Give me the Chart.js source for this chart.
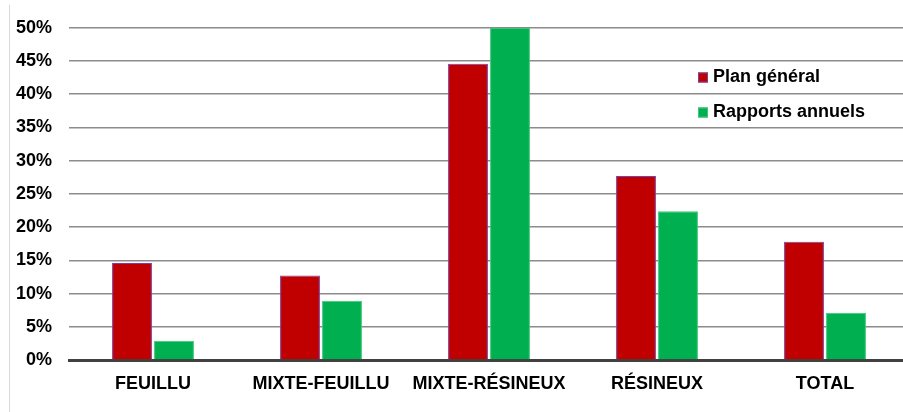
<!DOCTYPE html>
<html>
<head>
<meta charset="utf-8">
<script src="https://cdn.jsdelivr.net/npm/chart.js@4"></script>
<style>
  html, body { margin: 0; padding: 0; background: #fff; overflow: hidden; }
  #wrap { width: 903px; height: 412px; overflow: hidden; }
</style>
</head>
<body>
<div id="wrap"><canvas id="barChart" width="912" height="412"></canvas></div>
<script>
const categories = ['FEUILLU', 'MIXTE-FEUILLU', 'MIXTE-RÉSINEUX', 'RÉSINEUX', 'TOTAL'];
const planGeneral = [14.6, 12.7, 44.6, 27.7, 17.8];
const rapportsAnnuels = [2.9, 8.9, 50, 22.4, 7.1];
const yTicks = [0, 5, 10, 15, 20, 25, 30, 35, 40, 45, 50];

const FONT = { family: '"Liberation Sans", Arial, sans-serif', size: 18, weight: 'bold' };

// vertical legend inside the plot + thin frame line on the left
const sideLegend = {
  id: 'sideLegend',
  beforeDraw(chart) {
    const ctx = chart.ctx;
    ctx.save();
    ctx.strokeStyle = '#d9d9d9';
    ctx.lineWidth = 1;
    ctx.beginPath();
    ctx.moveTo(9.5, 5);
    ctx.lineTo(9.5, chart.height);
    ctx.stroke();
    ctx.restore();
  },
  afterDraw(chart, args, opts) {
    const ctx = chart.ctx;
    ctx.save();
    ctx.font = `${FONT.weight} ${FONT.size}px ${FONT.family}`;
    ctx.textBaseline = 'middle';
    chart.data.datasets.forEach((ds, i) => {
      const y = opts.y + i * opts.gap;
      ctx.fillStyle = ds.backgroundColor;
      ctx.fillRect(opts.x, y - 5, 10, 10);
      if (ds.borderWidth) {
        ctx.strokeStyle = ds.borderColor;
        ctx.lineWidth = 1;
        ctx.strokeRect(opts.x + 0.5, y - 4.5, 9, 9);
      }
      ctx.fillStyle = '#000';
      ctx.fillText(ds.label, opts.x + 15, y);
    });
    ctx.restore();
  }
};

const ctx = document.querySelector('#barChart').getContext('2d');
const barChart = new Chart(ctx, {
  type: 'bar',
  data: {
    labels: categories,
    datasets: [{
      label: 'Plan général',
      data: planGeneral,
      backgroundColor: '#C00000', // dark red
      borderColor: '#7B3FA6',     // purple edge
      borderWidth: 1
    }, {
      label: 'Rapports annuels',
      data: rapportsAnnuels,
      backgroundColor: '#00B050', // green
      borderColor: '#3FC67B',
      borderWidth: 1
    }]
  },
  options: {
    responsive: false,
    animation: false,
    devicePixelRatio: 1,
    categoryPercentage: 0.5,
    barPercentage: 0.95,
    layout: { padding: { top: 25, right: 3, bottom: 0, left: 0 } },
    scales: {
      x: {
        grid: { display: false },
        border: { display: true, color: '#404040', width: 3 },
        ticks: { color: '#000', font: FONT, padding: 5, maxRotation: 0, autoSkip: false },
        afterFit(scale) { scale.height = 52; }
      },
      y: {
        min: 0,
        max: 50,
        afterBuildTicks(scale) { scale.ticks = yTicks.map(v => ({ value: v })); },
        grid: { color: '#8c8c8c', lineWidth: 1.5, drawTicks: false },
        border: { display: false },
        ticks: {
          color: '#000',
          font: FONT,
          padding: 17,
          callback: v => v + '%'
        },
        afterFit(scale) { scale.width = 69; }
      }
    },
    plugins: {
      legend: { display: false },
      tooltip: { enabled: false },
      sideLegend: { x: 698, y: 77.5, gap: 35 }
    }
  },
  plugins: [sideLegend]
});
</script>
</body>
</html>
